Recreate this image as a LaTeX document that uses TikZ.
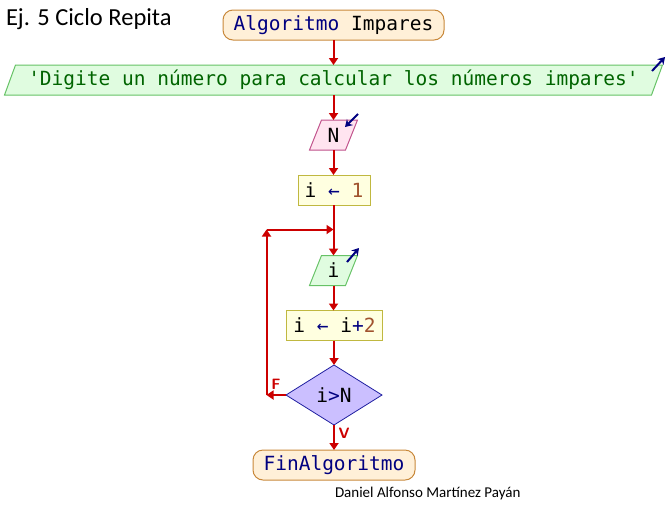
\documentclass[tikz,border=0pt]{standalone}
\usepackage{fontspec}
\setmainfont{Carlito}
\newfontfamily\monof{DejaVu Sans Mono}
\usetikzlibrary{arrows.meta,shapes.geometric}
\definecolor{flowred}{HTML}{CC0000}
\definecolor{navyt}{HTML}{000080}
\definecolor{brownt}{HTML}{A0522D}
\definecolor{greent}{HTML}{006400}
\definecolor{termfill}{HTML}{FFF0D8}
\definecolor{termdraw}{HTML}{C8883A}
\definecolor{outfill}{HTML}{E0FCE0}
\definecolor{outdraw}{HTML}{66C266}
\definecolor{infill}{HTML}{FFE4F0}
\definecolor{indraw}{HTML}{C0508A}
\definecolor{asfill}{HTML}{FFFFE0}
\definecolor{asdraw}{HTML}{C0B840}
\definecolor{difill}{HTML}{CBBFFF}
\definecolor{didraw}{HTML}{2020A0}
\tikzset{
  every node/.style={inner sep=0pt, outer sep=0pt},
  mono/.style={font=\monof\fontsize{19.5}{22}\selectfont},
  term/.style={mono, rounded corners=10pt, draw=termdraw, fill=termfill, line width=1pt, minimum height=30pt},
  hold/.style={mono, draw=none, minimum height=30pt},
  asgn/.style={mono, draw=asdraw, fill=asfill, line width=1pt, minimum height=30pt},
  deci/.style={mono, diamond, draw=didraw, fill=difill, line width=0.8pt, minimum width=96pt, minimum height=60pt, aspect=1.6},
  flow/.style={draw=flowred, line width=2pt, -{Triangle[width=9pt,length=7pt]}},
  flowplain/.style={draw=flowred, line width=2pt},
  icon/.style={draw=navyt, line width=2pt, -{Stealth[width=8.5pt,length=7pt]}},
  lbl/.style={text=flowred, font=\sffamily\bfseries\fontsize{15}{15}\selectfont}
}
\begin{document}
\begin{tikzpicture}[x=1pt,y=-1pt]
\useasboundingbox (0,0) rectangle (668,515);
% title
\node[anchor=west, font=\fontsize{24.5}{26}\selectfont] (title) at (6,19) {Ej. 5 Ciclo Repita};
% start
\node[term, minimum width=221pt] (start) at (333.5,25) {\textcolor{navyt}{Algoritmo} Impares};
% output
\node[hold, minimum width=647pt] (out) at (333.5,80) {};
\filldraw[fill=outfill, draw=outdraw, line width=1pt]
  ([xshift=5.5]out.north west) -- ([xshift=5.5]out.north east) -- ([xshift=-5.5]out.south east) -- ([xshift=-5.5]out.south west) -- cycle;
\node[mono] (outtext) at (out.center) {\textcolor{greent}{'Digite un número para calcular los números impares'}};
\draw[icon] (652,71) -- (665,57);
% input N
\node[hold, minimum width=36pt] (inN) at (333.5,135) {};
\filldraw[fill=infill, draw=indraw, line width=1pt]
  ([xshift=6]inN.north west) -- ([xshift=6]inN.north east) -- ([xshift=-6]inN.south east) -- ([xshift=-6]inN.south west) -- cycle;
\node[mono] (Ntext) at (inN.center) {N};
\draw[icon] (358,114) -- (345,127);
% assign i <- 1
\node[asgn, minimum width=72pt] (a1) at (334,190) {i \textcolor{navyt}{←} \textcolor{brownt}{1}};
% input i
\node[hold, minimum width=36pt] (ini) at (333.5,270.5) {};
\filldraw[fill=outfill, draw=outdraw, line width=1pt]
  ([xshift=6]ini.north west) -- ([xshift=6]ini.north east) -- ([xshift=-6]ini.south east) -- ([xshift=-6]ini.south west) -- cycle;
\node[mono] (itext) at (ini.center) {i};
\draw[icon] (347,262) -- (359,248);
% assign i <- i+2
\node[asgn, minimum width=96pt] (a2) at (334.5,325.5) {i \textcolor{navyt}{←} i\textcolor{navyt}{+}\textcolor{brownt}{2}};
% decision
\node[deci] (dec) at (334,395) {i\textcolor{navyt}{>}N};
% end
\node[term, minimum width=162pt] (fin) at (334,465) {\textcolor{navyt}{FinAlgoritmo}};
% author
\node[anchor=west, font=\fontsize{15}{17}\selectfont] (auth) at (335,493) {Daniel Alfonso Martínez Payán};
% connectors
\coordinate (c1) at (266.5,395);
\coordinate (c2) at (266.5,229.5);
\coordinate (c3) at (333.5,229.5);
\draw[flow] (start.south -| out.north) -- (out.north);
\draw[flow] (out.south) -- (inN.north);
\draw[flow] (inN.south) -- (inN.south |- a1.north);
\draw[flowplain] (a1.south -| c3) -- (c3);
\draw[flow] (c3) -- (ini.north);
\draw[flow] (ini.south) -- (ini.south |- a2.north);
\draw[flow] (a2.south -| dec.north) -- (dec.north);
\draw[flow] (dec.south) -- (fin.north);
\draw[flow] (dec.west) -- (c1);
\draw[flow] (c1) -- (c2);
\draw[flow] (c2) -- (c3);
\node[lbl] (lf) at (276,384) {F};
\node[lbl] (lv) at (344,433) {V};
\end{tikzpicture}
\end{document}
